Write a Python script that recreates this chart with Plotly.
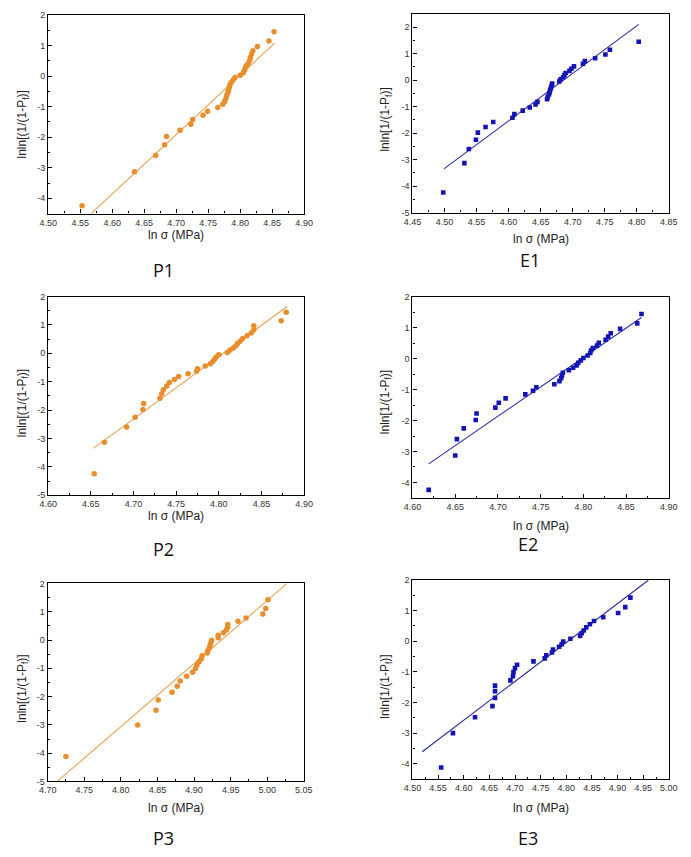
import plotly.graph_objects as go

W, H = 691, 857          # browser window
OFF = 8                  # default body margin of the html page
FW, FH = W - 2 * OFF, H - 2 * OFF

# ---------------- data ----------------
p1_x = [4.553, 4.635, 4.668, 4.682, 4.685, 4.706, 4.723, 4.726, 4.742, 4.749,
        4.765, 4.773, 4.776, 4.778, 4.779, 4.781, 4.782, 4.783, 4.784, 4.786,
        4.789, 4.792, 4.800, 4.805, 4.807, 4.808, 4.810, 4.813, 4.815, 4.816,
        4.818, 4.820, 4.827, 4.845, 4.853]
p1_y = [-4.24, -3.13, -2.60, -2.25, -1.98, -1.77, -1.58, -1.42, -1.28, -1.15,
        -1.03, -0.92, -0.82, -0.72, -0.63, -0.54, -0.45, -0.37, -0.29, -0.21,
        -0.13, -0.05, 0.03, 0.11, 0.19, 0.27, 0.35, 0.43, 0.52, 0.62,
        0.72, 0.83, 0.97, 1.15, 1.45]
p1_fit_x = [4.567, 4.854]
p1_fit_y = [-4.50, 1.08]

e1_x = [4.498, 4.531, 4.538, 4.549, 4.552, 4.564, 4.576, 4.606, 4.609, 4.622,
        4.633, 4.642, 4.645, 4.660, 4.661, 4.663, 4.664, 4.665, 4.666, 4.667,
        4.668, 4.679, 4.681, 4.685, 4.687, 4.689, 4.695, 4.698, 4.702, 4.716,
        4.719, 4.735, 4.751, 4.758, 4.803]
e1_y = [-4.24, -3.13, -2.60, -2.25, -1.98, -1.77, -1.58, -1.42, -1.28, -1.15,
        -1.03, -0.92, -0.82, -0.72, -0.63, -0.54, -0.45, -0.37, -0.29, -0.21,
        -0.13, -0.05, 0.03, 0.11, 0.19, 0.27, 0.35, 0.43, 0.52, 0.62,
        0.72, 0.83, 0.97, 1.15, 1.45]
e1_fit_x = [4.499, 4.803]
e1_fit_y = [-3.35, 2.11]

p2_x = [4.654, 4.666, 4.692, 4.702, 4.711, 4.712, 4.731, 4.733, 4.735, 4.739,
        4.742, 4.748, 4.753, 4.764, 4.774, 4.775, 4.784, 4.790, 4.793, 4.795,
        4.797, 4.800, 4.810, 4.813, 4.817, 4.820, 4.822, 4.825, 4.828, 4.833,
        4.838, 4.841, 4.841, 4.873, 4.879]
p2_y = [-4.24, -3.13, -2.60, -2.25, -1.98, -1.77, -1.58, -1.42, -1.28, -1.15,
        -1.03, -0.92, -0.82, -0.72, -0.63, -0.54, -0.45, -0.37, -0.29, -0.21,
        -0.13, -0.05, 0.03, 0.11, 0.19, 0.27, 0.35, 0.43, 0.52, 0.62,
        0.72, 0.83, 0.97, 1.15, 1.45]
p2_fit_x = [4.653, 4.880]
p2_fit_y = [-3.35, 1.65]

e2_x = [4.619, 4.650, 4.652, 4.660, 4.674, 4.675, 4.697, 4.701, 4.709, 4.732,
        4.741, 4.745, 4.766, 4.772, 4.774, 4.775, 4.776, 4.783, 4.788, 4.792,
        4.794, 4.797, 4.800, 4.805, 4.808, 4.809, 4.811, 4.816, 4.818, 4.826,
        4.829, 4.832, 4.843, 4.863, 4.868]
e2_y = [-4.24, -3.13, -2.60, -2.25, -1.98, -1.77, -1.58, -1.42, -1.28, -1.15,
        -1.03, -0.92, -0.82, -0.72, -0.63, -0.54, -0.45, -0.37, -0.29, -0.21,
        -0.13, -0.05, 0.03, 0.11, 0.19, 0.27, 0.35, 0.43, 0.52, 0.62,
        0.72, 0.83, 0.97, 1.15, 1.45]
e2_fit_x = [4.619, 4.868]
e2_fit_y = [-3.40, 1.34]

p3_x = [4.725, 4.823, 4.848, 4.851, 4.870, 4.877, 4.881, 4.890, 4.898, 4.902,
        4.904, 4.907, 4.910, 4.911, 4.918, 4.919, 4.921, 4.922, 4.923, 4.924,
        4.933, 4.933, 4.940, 4.944, 4.946, 4.946, 4.960, 4.971, 4.994, 4.998,
        5.001]
p3_y = [-4.12, -3.00, -2.48, -2.12, -1.85, -1.63, -1.45, -1.28, -1.14, -1.01,
        -0.88, -0.77, -0.66, -0.56, -0.46, -0.37, -0.27, -0.18, -0.10, -0.01,
        0.08, 0.17, 0.26, 0.35, 0.45, 0.55, 0.66, 0.78, 0.92, 1.11, 1.42]
p3_fit_x = [4.713, 5.027]
p3_fit_y = [-5.00, 2.00]

e3_x = [4.556, 4.579, 4.622, 4.656, 4.661, 4.661, 4.661, 4.691, 4.696, 4.697,
        4.700, 4.704, 4.736, 4.758, 4.761, 4.772, 4.774, 4.786, 4.791, 4.794,
        4.808, 4.827, 4.830, 4.834, 4.839, 4.846, 4.854, 4.872, 4.901, 4.915,
        4.925]
e3_y = [-4.12, -3.00, -2.48, -2.12, -1.85, -1.63, -1.45, -1.28, -1.14, -1.01,
        -0.88, -0.77, -0.66, -0.56, -0.46, -0.37, -0.27, -0.18, -0.10, -0.01,
        0.08, 0.17, 0.26, 0.35, 0.45, 0.55, 0.66, 0.78, 0.92, 1.11, 1.42]
e3_fit_x = [4.519, 4.960]
e3_fit_y = [-3.61, 1.99]

# tick labels
p1_xticks = ["4.50", "4.55", "4.60", "4.65", "4.70", "4.75", "4.80", "4.85", "4.90"]
e1_xticks = ["4.45", "4.50", "4.55", "4.60", "4.65", "4.70", "4.75", "4.80", "4.85"]
p2_xticks = ["4.60", "4.65", "4.70", "4.75", "4.80", "4.85", "4.90"]
e2_xticks = ["4.60", "4.65", "4.70", "4.75", "4.80", "4.85", "4.90"]
p3_xticks = ["4.70", "4.75", "4.80", "4.85", "4.90", "4.95", "5.00", "5.05"]
e3_xticks = ["4.50", "4.55", "4.60", "4.65", "4.70", "4.75", "4.80", "4.85", "4.90", "4.95", "5.00"]
yticks_4 = ["2", "1", "0", "-1", "-2", "-3", "-4"]
yticks_5 = ["2", "1", "0", "-1", "-2", "-3", "-4", "-5"]

panel_names = ["P1", "E1", "P2", "E2", "P3", "E3"]

# ---------------- styling / layout ----------------
ORANGE = "#E88E2C"
ORANGE_LINE = "#E9A054"
BLUE = "#1414B4"
BLUE_LINE = "#2A2AA6"


def px_x(p):
    return (p - OFF) / FW


def px_y(p):
    return 1 - (p - OFF) / FH


panels = [
    dict(x=p1_x, y=p1_y, fx=p1_fit_x, fy=p1_fit_y, xt=p1_xticks, yt=yticks_4,
         xr=[4.50, 4.90], yr=[-4.5, 2], box=(40, 303, 10, 211), kind="P",
         ytitle="lnln[(1/(1-P<sub>f</sub>)]", xlab_y=233, ylab=(14, 121), name_pos=(158, 268)),
    dict(x=e1_x, y=e1_y, fx=e1_fit_x, fy=e1_fit_y, xt=e1_xticks, yt=yticks_5,
         xr=[4.45, 4.85], yr=[-5, 2.5], box=(414.3, 677.7, 9, 210), kind="E",
         ytitle="lnln[1/(1-P<sub>f</sub>)]", xlab_y=237, ylab=(387, 116), name_pos=(535, 258)),
    dict(x=p2_x, y=p2_y, fx=p2_fit_x, fy=p2_fit_y, xt=p2_xticks, yt=yticks_5,
         xr=[4.60, 4.90], yr=[-5, 2], box=(40, 303, 295, 496), kind="P",
         ytitle="lnln[(1/(1-P<sub>f</sub>)]", xlab_y=517, ylab=(14, 403), name_pos=(159, 550)),
    dict(x=e2_x, y=e2_y, fx=e2_fit_x, fy=e2_fit_y, xt=e2_xticks, yt=yticks_4,
         xr=[4.60, 4.90], yr=[-4.5, 2], box=(414.3, 677.7, 295.5, 498.7), kind="E",
         ytitle="lnln[1/(1-P<sub>f</sub>)]", xlab_y=527, ylab=(387, 402), name_pos=(533, 545)),
    dict(x=p3_x, y=p3_y, fx=p3_fit_x, fy=p3_fit_y, xt=p3_xticks, yt=yticks_5,
         xr=[4.70, 5.05], yr=[-5, 2], box=(39.5, 302.7, 585.3, 785.7), kind="P",
         ytitle="lnln[(1/(1-P<sub>f</sub>)]", xlab_y=813, ylab=(14, 692), name_pos=(158, 843)),
    dict(x=e3_x, y=e3_y, fx=e3_fit_x, fy=e3_fit_y, xt=e3_xticks, yt=yticks_4,
         xr=[4.50, 5.00], yr=[-4.5, 2], box=(414.3, 677.7, 581.7, 783.3), kind="E",
         ytitle="lnln[1/(1-P<sub>f</sub>)]", xlab_y=813, ylab=(387, 690), name_pos=(533, 843)),
]

fig = go.Figure()
annotations = []
TICKFONT = dict(family="Arial, Liberation Sans, sans-serif", size=9, color="#333333")
TITLEFONT = dict(family="Arial, Liberation Sans, sans-serif", size=12, color="#222222")
NAMEFONT = dict(family="Open Sans, Noto Sans, sans-serif", size=18, color="#111111")


def ann(xp, yp, text, font, angle=0):
    annotations.append(dict(
        x=px_x(xp), y=px_y(yp), xref="paper", yref="paper", text=text,
        showarrow=False, xanchor="center", yanchor="middle", textangle=angle, font=font))


layout_axes = {}
for i, (pn, name) in enumerate(zip(panels, panel_names), start=1):
    xa = f"x{i}" if i > 1 else "x"
    ya = f"y{i}" if i > 1 else "y"
    xkey = f"xaxis{i}" if i > 1 else "xaxis"
    ykey = f"yaxis{i}" if i > 1 else "yaxis"
    if pn["kind"] == "P":
        mk = dict(symbol="circle", size=5.5, color=ORANGE)
        lc = ORANGE_LINE
    else:
        mk = dict(symbol="square", size=4.6, color=BLUE)
        lc = BLUE_LINE
    fig.add_trace(go.Scatter(x=pn["fx"], y=pn["fy"], mode="lines",
                             line=dict(color=lc, width=1.1), xaxis=xa, yaxis=ya,
                             showlegend=False, hoverinfo="skip"))
    fig.add_trace(go.Scatter(x=pn["x"], y=pn["y"], mode="markers", marker=mk,
                             xaxis=xa, yaxis=ya, showlegend=False))
    x0, x1, y0, y1 = pn["box"]
    axis_common = dict(showline=True, linecolor="black", linewidth=1.3, mirror=True,
                       showgrid=False, zeroline=False, ticks="inside", ticklen=4,
                       tickwidth=1, tickcolor="black", tickfont=TICKFONT,
                       tickmode="array")
    layout_axes[xkey] = dict(
        axis_common, domain=[px_x(x0), px_x(x1)], range=pn["xr"], anchor=ya,
        tickvals=[float(t) for t in pn["xt"]], ticktext=pn["xt"],
        minor=dict(ticks="inside", ticklen=2, tickcolor="black", tickwidth=1,
                   tickmode="linear", tick0=pn["xr"][0], dtick=0.025))
    layout_axes[ykey] = dict(
        axis_common, domain=[px_y(y1), px_y(y0)], range=pn["yr"], anchor=xa,
        tickvals=[float(t) for t in pn["yt"]], ticktext=pn["yt"],
        minor=dict(ticks="inside", ticklen=2, tickcolor="black", tickwidth=1,
                   tickmode="linear", tick0=0, dtick=0.5))
    ann((x0 + x1) / 2, pn["xlab_y"], "ln σ (MPa)", TITLEFONT)
    ann(pn["ylab"][0], pn["ylab"][1], pn["ytitle"], TITLEFONT, angle=-90)
    ann(pn["name_pos"][0], pn["name_pos"][1], name, NAMEFONT)

fig.update_layout(
    width=FW, height=FH, margin=dict(l=0, r=0, t=0, b=0),
    paper_bgcolor="white", plot_bgcolor="white",
    annotations=annotations, showlegend=False,
    **layout_axes,
)
fig.write_html("out.html")
